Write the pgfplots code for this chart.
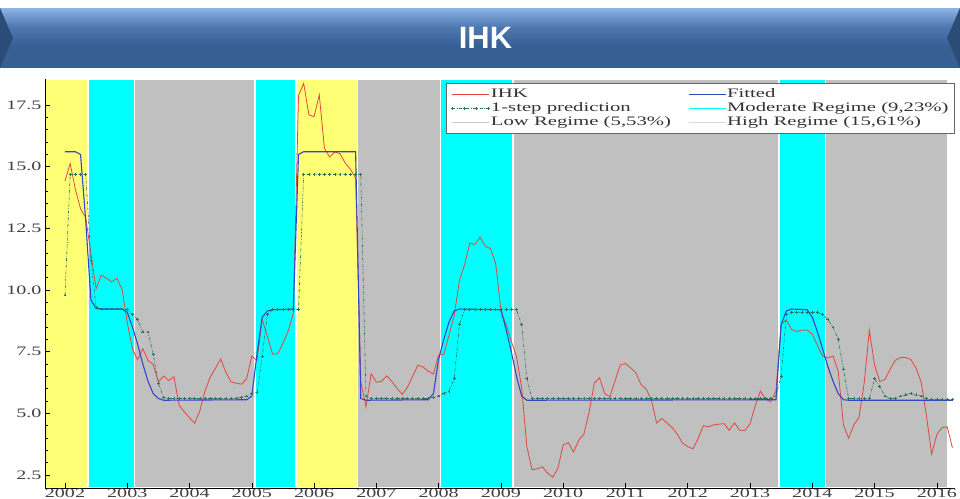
\documentclass[border=0pt]{standalone}
\usepackage{fontspec}
\setmainfont{Liberation Serif}
\newfontfamily\titlefont{Liberation Sans}
\usepackage{graphicx}
\usepackage{pgfplots}
\pgfplotsset{compat=1.18}
\definecolor{regY}{RGB}{255,255,118}
\definecolor{regC}{RGB}{0,255,255}
\definecolor{regG}{RGB}{192,192,192}
\definecolor{ihk}{RGB}{226,70,60}
\definecolor{fit}{RGB}{50,70,200}
\definecolor{pred}{RGB}{40,115,95}
\definecolor{bnTop}{RGB}{140,180,232}
\definecolor{bnMid}{RGB}{78,120,176}
\definecolor{bnBot}{RGB}{54,95,148}
\newcommand\sx[1]{\scalebox{1.6}[1]{#1}}
\newcommand\sy[1]{\scalebox{1.55}[1]{#1}}
\pgfplotsset{predleg/.style={legend image code/.code={\draw[##1] plot coordinates {(0bp,0bp) (12bp,0bp) (24bp,0bp) (36bp,0bp)};}}}
\begin{document}
\begin{tikzpicture}
\useasboundingbox (0bp,0bp) rectangle (960bp,-499bp);
% title banner
\shade[top color=bnTop, bottom color=bnBot, middle color=bnMid] (0bp,-8bp) rectangle (960bp,-46bp);
\fill[bnBot] (0bp,-45.5bp) rectangle (960bp,-68bp);
\fill[bnBot!80!black] (0bp,-8bp) -- (13bp,-38bp) -- (0bp,-68bp) -- cycle;
\fill[bnBot!80!black] (960bp,-8bp) -- (947bp,-38bp) -- (960bp,-68bp) -- cycle;
\node[anchor=base, text=white, inner sep=0pt, font=\titlefont\bfseries\fontsize{31}{31}\selectfont] at (485.5bp,-48bp) {IHK};
\begin{axis}[
  at={(45bp,-488bp)}, anchor=south west,
  scale only axis, width=910bp, height=409bp,
  xmin=-3.85, xmax=171.5, ymin=1.97, ymax=18.56,
  axis x line=bottom, axis y line=left,
  axis line style={-, black, line width=0.8bp},
  tick align=inside,
  xtick={0,12,...,168},
  xticklabels={\sy{2002},\sy{2003},\sy{2004},\sy{2005},\sy{2006},\sy{2007},\sy{2008},\sy{2009},\sy{2010},\sy{2011},\sy{2012},\sy{2013},\sy{2014},\sy{2015},\sy{2016}},
  ytick={2.5,5,7.5,10,12.5,15,17.5},
  yticklabels={\sy{2.5},\sy{5.0},\sy{7.5},\sy{10.0},\sy{12.5},\sy{15.0},\sy{17.5}},
  minor y tick num=4,
  major tick length=5bp, minor tick length=3bp,
  tick style={black, line width=0.6bp},
  ticklabel style={font=\fontsize{13}{13}\selectfont, text=black!75},
  xticklabel style={inner sep=0.8bp},
  axis on top,
  legend columns=2,
  legend cell align=left,
  legend style={at={(rel axis cs:1,1)}, anchor=north east, yshift=-4bp,
    draw=black!60, line width=0.8bp, fill=white, inner xsep=5bp, inner ysep=4bp,
    font=\fontsize{13}{13}\selectfont, text=black!80,
    nodes={inner sep=1bp, text height=9bp, text depth=3bp},
    /tikz/every even column/.append style={column sep=16bp}},
  legend image code/.code={\draw[line width=1bp,#1] (0bp,0bp) -- (37bp,0bp);},
]
% regime shading
\addplot[forget plot, fill=regY, draw=white, line width=1.5bp] coordinates {(-3.85,1.97) (-3.85,18.56) (4.4,18.56) (4.4,1.97)} -- cycle;
\addplot[forget plot, fill=regC, draw=white, line width=1.5bp] coordinates {(4.4,1.97) (4.4,18.56) (13.4,18.56) (13.4,1.97)} -- cycle;
\addplot[forget plot, fill=regG, draw=white, line width=1.5bp] coordinates {(13.4,1.97) (13.4,18.56) (36.6,18.56) (36.6,1.97)} -- cycle;
\addplot[forget plot, fill=regC, draw=white, line width=1.5bp] coordinates {(36.6,1.97) (36.6,18.56) (44.5,18.56) (44.5,1.97)} -- cycle;
\addplot[forget plot, fill=regY, draw=white, line width=1.5bp] coordinates {(44.5,1.97) (44.5,18.56) (56.4,18.56) (56.4,1.97)} -- cycle;
\addplot[forget plot, fill=regG, draw=white, line width=1.5bp] coordinates {(56.4,1.97) (56.4,18.56) (72.4,18.56) (72.4,1.97)} -- cycle;
\addplot[forget plot, fill=regC, draw=white, line width=1.5bp] coordinates {(72.4,1.97) (72.4,18.56) (86.3,18.56) (86.3,1.97)} -- cycle;
\addplot[forget plot, fill=regG, draw=white, line width=1.5bp] coordinates {(86.3,1.97) (86.3,18.56) (137.6,18.56) (137.6,1.97)} -- cycle;
\addplot[forget plot, fill=regC, draw=white, line width=1.5bp] coordinates {(137.6,1.97) (137.6,18.56) (146.5,18.56) (146.5,1.97)} -- cycle;
\addplot[forget plot, fill=regG, draw=white, line width=1.5bp] coordinates {(146.5,1.97) (146.5,18.56) (170.1,18.56) (170.1,1.97)} -- cycle;
% IHK
\addplot[color=ihk, line width=0.8bp, mark=none] coordinates {
(0,14.42)(1,15.13)(2,14.08)(3,13.30)(4,12.93)(5,11.48)(6,10.05)(7,10.60)(8,10.48)(9,10.33)(10,10.48)(11,10.03)
(12,8.68)(13,7.60)(14,7.17)(15,7.62)(16,7.15)(17,6.98)(18,6.27)(19,6.51)(20,6.33)(21,6.48)(22,5.33)(23,5.06)
(24,4.82)(25,4.60)(26,5.11)(27,5.92)(28,6.47)(29,6.83)(30,7.20)(31,6.67)(32,6.27)(33,6.22)(34,6.18)(35,6.40)
(36,7.32)(37,7.15)(38,8.81)(39,8.12)(40,7.40)(41,7.42)(42,7.84)(43,8.33)(44,9.06)(45,17.89)(46,18.38)(47,17.11)
(48,17.03)(49,17.92)(50,15.74)(51,15.40)(52,15.60)(53,15.53)(54,15.15)(55,14.90)(56,14.55)(57,6.29)(58,5.27)(59,6.60)
(60,6.26)(61,6.30)(62,6.52)(63,6.29)(64,6.01)(65,5.77)(66,6.06)(67,6.51)(68,6.95)(69,6.88)(70,6.71)(71,6.59)
(72,7.36)(73,7.40)(74,8.17)(75,8.96)(76,10.38)(77,11.03)(78,11.90)(79,11.85)(80,12.14)(81,11.77)(82,11.68)(83,11.06)
(84,9.17)(85,8.60)(86,7.92)(87,7.31)(88,6.04)(89,3.65)(90,2.71)(91,2.75)(92,2.83)(93,2.57)(94,2.41)(95,2.78)
(96,3.72)(97,3.81)(98,3.43)(99,3.91)(100,4.16)(101,5.05)(102,6.22)(103,6.44)(104,5.80)(105,5.67)(106,6.33)(107,6.96)
(108,7.02)(109,6.84)(110,6.65)(111,6.16)(112,5.98)(113,5.54)(114,4.61)(115,4.79)(116,4.61)(117,4.42)(118,4.15)(119,3.79)
(120,3.65)(121,3.56)(122,3.97)(123,4.50)(124,4.45)(125,4.53)(126,4.56)(127,4.58)(128,4.31)(129,4.61)(130,4.32)(131,4.30)
(132,4.57)(133,5.31)(134,5.90)(135,5.57)(136,5.47)(137,5.90)(138,8.61)(139,8.79)(140,8.40)(141,8.32)(142,8.37)(143,8.38)
(144,8.22)(145,7.75)(146,7.32)(147,7.25)(148,7.32)(149,6.70)(150,4.53)(151,3.99)(152,4.53)(153,4.83)(154,6.23)(155,8.36)
(156,6.96)(157,6.29)(158,6.38)(159,6.79)(160,7.15)(161,7.26)(162,7.26)(163,7.18)(164,6.83)(165,6.25)(166,4.89)(167,3.35)
(168,4.14)(169,4.42)(170,4.45)(171,3.60)};
\addlegendentry{\sx{IHK}}
% Fitted
\addplot[color=fit, line width=1.1bp, mark=none] coordinates {
(0,15.61)(1,15.61)(2,15.61)(3,15.5)(4,12.8)(5,9.6)(6,9.25)(7,9.23)(11,9.23)(12,9.1)(13,8.5)(14,7.8)(15,7.0)(16,6.3)(17,5.8)(18,5.6)(19,5.53)
(35,5.55)(36,5.7)(37,7.4)(38,8.9)(39,9.15)(40,9.2)(44,9.23)(45,15.5)(46,15.61)(56,15.61)(57,5.6)(58,5.53)
(70,5.55)(71,5.8)(72,7.2)(73,8.0)(74,8.7)(75,9.15)(76,9.23)(84,9.2)(85,8.4)(86,7.5)(87,6.5)(88,5.7)(89,5.53)
(137,5.55)(138,8.6)(139,9.15)(140,9.23)(143,9.2)(144,8.9)(145,8.3)(146,7.6)(147,6.9)(148,6.3)(149,5.8)(150,5.55)(151,5.53)(171,5.53)};
\addlegendentry{\sx{Fitted}}
% 1-step prediction
\addplot[color=pred, line width=0.6bp, dash pattern=on 3bp off 1.5bp on 0.8bp off 1.5bp, mark=+, mark size=1.4bp, mark options={solid}, predleg] coordinates {
(0,9.8)(1,14.7)(2,14.7)(3,14.7)(4,14.7)(5,11.2)(6,9.3)(7,9.23)(8,9.23)(9,9.23)(10,9.23)(11,9.23)
(12,9.2)(13,9.0)(14,8.8)(15,8.3)(16,8.3)(17,7.4)(18,6.2)(19,5.65)(20,5.6)(21,5.6)(22,5.6)(23,5.6)
(24,5.6)(25,5.6)(26,5.6)(27,5.6)(28,5.6)(29,5.6)(30,5.6)(31,5.6)(32,5.6)(33,5.62)(34,5.65)(35,5.7)
(36,5.8)(37,5.85)(38,7.3)(39,9.0)(40,9.2)(41,9.2)(42,9.2)(43,9.2)(44,9.2)(45,9.2)(46,14.7)(47,14.7)
(48,14.7)(49,14.7)(50,14.7)(51,14.7)(52,14.7)(53,14.7)(54,14.7)(55,14.7)(56,14.7)(57,14.7)(58,5.7)(59,5.6)
(60,5.6)(61,5.6)(62,5.6)(63,5.6)(64,5.6)(65,5.6)(66,5.6)(67,5.6)(68,5.6)(69,5.6)(70,5.6)(71,5.65)
(72,5.7)(73,5.8)(74,5.9)(75,6.4)(76,8.6)(77,9.2)(78,9.2)(79,9.2)(80,9.2)(81,9.2)(82,9.2)(83,9.2)
(84,9.2)(85,9.2)(86,9.2)(87,9.2)(88,8.6)(89,6.4)(90,5.6)(91,5.6)(92,5.6)(93,5.6)(94,5.6)(95,5.6)
(96,5.6)(97,5.6)(98,5.6)(99,5.6)(100,5.6)(101,5.6)(102,5.6)(103,5.6)(104,5.6)(105,5.6)(106,5.6)(107,5.6)
(108,5.6)(109,5.6)(110,5.6)(111,5.6)(112,5.6)(113,5.6)(114,5.6)(115,5.6)(116,5.6)(117,5.6)(118,5.6)(119,5.6)
(120,5.6)(121,5.6)(122,5.6)(123,5.6)(124,5.6)(125,5.6)(126,5.6)(127,5.6)(128,5.6)(129,5.6)(130,5.6)(131,5.6)
(132,5.6)(133,5.6)(134,5.6)(135,5.6)(136,5.6)(137,5.7)(138,6.5)(139,9.0)(140,9.1)(141,9.1)(142,9.1)(143,9.1)
(144,9.1)(145,9.1)(146,9.0)(147,8.8)(148,8.5)(149,8.0)(150,6.8)(151,5.6)(152,5.6)(153,5.6)(154,5.6)(155,5.6)
(156,6.4)(157,6.1)(158,5.7)(159,5.6)(160,5.6)(161,5.7)(162,5.75)(163,5.8)(164,5.75)(165,5.7)(166,5.6)(167,5.55)
(168,5.55)(169,5.55)(170,5.55)(171,5.55)};
\addlegendentry{\sx{1-step prediction}}
\addlegendimage{color=regC, line width=1bp}
\addlegendentry{\sx{Moderate Regime (9,23\%)}}
\addlegendimage{color=black!22, line width=1bp}
\addlegendentry{\sx{Low Regime (5,53\%)}}
\addlegendimage{color=black!15, line width=1bp}
\addlegendentry{\sx{High Regime (15,61\%)}}
\end{axis}
\end{tikzpicture}
\end{document}
